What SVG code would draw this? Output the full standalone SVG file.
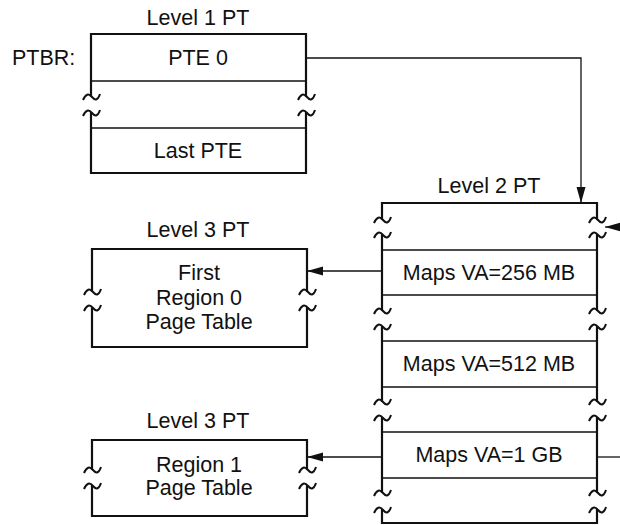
<svg xmlns="http://www.w3.org/2000/svg" width="620" height="525" viewBox="0 0 620 525">
<style>
text{font-family:"Liberation Sans",Arial,sans-serif;font-size:21.5px;fill:#111;text-anchor:middle}
.box{fill:none;stroke:#111;stroke-width:2.2;stroke-linecap:square}
.div{fill:none;stroke:#111;stroke-width:1.5}
.brk{fill:none;stroke:#111;stroke-width:2}
.con{fill:none;stroke:#111;stroke-width:1.3}
</style>
<defs>
<marker id="ah" viewBox="0 0 16 10" refX="16" refY="5" markerWidth="16" markerHeight="10" markerUnits="userSpaceOnUse" orient="auto">
<path d="M0,0.5 L16,5 L0,9.5 z" fill="#111"/>
</marker>
<path id="t" d="M-8,3 Q-4,-6 1,0 Q6,6 9,-3"/>
</defs>
<rect width="620" height="525" fill="#fff"/>

<g id="ptbr"><text x="12" y="65" style="text-anchor:start">PTBR:</text></g>

<g id="level1">
<text x="198" y="25">Level 1 PT</text>
<path class="box" d="M91,96 V34 H306 V96 M91,113 V173 H306 V113"/>
<path class="div" d="M91,81 H306 M91,128 H306"/>
<g class="brk">
<use href="#t" x="91" y="97"/><use href="#t" x="91" y="113"/>
<use href="#t" x="306" y="97"/><use href="#t" x="306" y="113"/>
</g>
<text x="198" y="65">PTE 0</text>
<text x="198" y="158">Last PTE</text>
</g>

<g id="level2">
<text x="489" y="193">Level 2 PT</text>
<path class="box" d="M382,219 V203 H597 V219 M382,235 V310 M597,235 V310 M382,327 V401 M597,327 V401 M382,418 V492 M597,418 V492 M382,510 V523 H597 V510"/>
<path class="div" d="M382,250 H597 M382,295 H597 M382,341 H597 M382,387 H597 M382,432 H597 M382,478 H597"/>
<g class="brk">
<use href="#t" x="382" y="220"/><use href="#t" x="382" y="235"/>
<use href="#t" x="597" y="220"/><use href="#t" x="597" y="235"/>
<use href="#t" x="382" y="311"/><use href="#t" x="382" y="327"/>
<use href="#t" x="597" y="311"/><use href="#t" x="597" y="327"/>
<use href="#t" x="382" y="402"/><use href="#t" x="382" y="418"/>
<use href="#t" x="597" y="402"/><use href="#t" x="597" y="418"/>
<use href="#t" x="382" y="493"/><use href="#t" x="382" y="510"/>
<use href="#t" x="597" y="493"/><use href="#t" x="597" y="510"/>
</g>
<text x="489" y="280">Maps VA=256 MB</text>
<text x="489" y="371">Maps VA=512 MB</text>
<text x="489" y="462">Maps VA=1 GB</text>
</g>

<g id="level3a">
<text x="198" y="237">Level 3 PT</text>
<path class="box" d="M92,291 V249 H307 V291 M92,308 V347 H307 V308"/>
<g class="brk">
<use href="#t" x="92" y="292"/><use href="#t" x="92" y="308"/>
<use href="#t" x="307" y="292"/><use href="#t" x="307" y="308"/>
</g>
<text x="199" y="280">First</text>
<text x="199" y="305">Region 0</text>
<text x="199" y="329">Page Table</text>
</g>

<g id="level3b">
<text x="198" y="428">Level 3 PT</text>
<path class="box" d="M92,469 V440 H307 V469 M92,486 V516 H307 V486"/>
<g class="brk">
<use href="#t" x="92" y="470"/><use href="#t" x="92" y="486"/>
<use href="#t" x="307" y="470"/><use href="#t" x="307" y="486"/>
</g>
<text x="199" y="472">Region 1</text>
<text x="199" y="495">Page Table</text>
</g>

<g id="connectors">
<path class="con" d="M306,58 H581 V203" marker-end="url(#ah)"/>
<path class="con" d="M382,271 H307" marker-end="url(#ah)"/>
<path class="con" d="M382,457 H307" marker-end="url(#ah)"/>
<path class="con" d="M597,457 H620"/>
<path class="con" d="M630,227 H605" marker-end="url(#ah)"/>
</g>
</svg>
